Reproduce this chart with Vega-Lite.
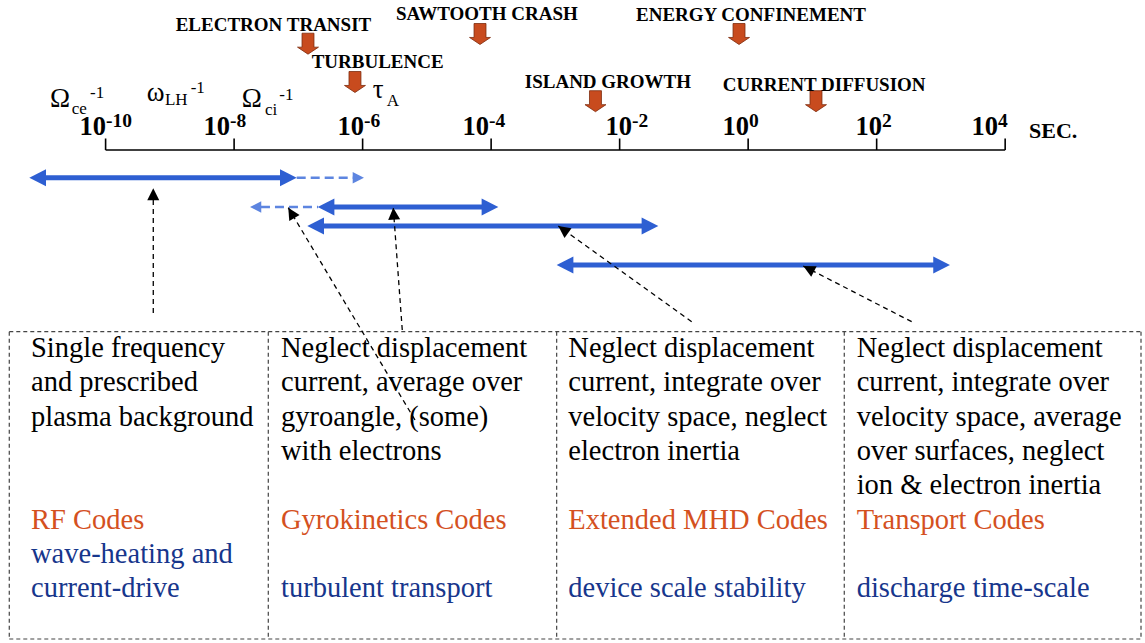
{
  "$schema": "https://vega.github.io/schema/vega-lite/v6.json",
  "width": 1145,
  "height": 643,
  "padding": 0,
  "autosize": {"type": "fit", "contains": "padding"},
  "background": "white",
  "config": {"view": {"stroke": null}},
  "datasets": {
    "boxlines": [
      {"x": -11.499, "y": 331.7, "x2": 6.114, "y2": 331.7},
      {"x": -11.499, "y": 639, "x2": 6.114, "y2": 639},
      {"x": -11.499, "y": 331.7, "x2": -11.499, "y2": 639},
      {"x": -7.468, "y": 331.7, "x2": -7.468, "y2": 639},
      {"x": -2.98, "y": 331.7, "x2": -2.98, "y2": 639},
      {"x": 1.496, "y": 331.7, "x2": 1.496, "y2": 639},
      {"x": 6.114, "y": 331.7, "x2": 6.114, "y2": 639}
    ],
    "axis": [
      {"x": -10, "y": 150, "x2": 4, "y2": 150},
      {"x": -10, "y": 138.5, "x2": -10, "y2": 150},
      {"x": -8, "y": 138.5, "x2": -8, "y2": 150},
      {"x": -6, "y": 138.5, "x2": -6, "y2": 150},
      {"x": -4, "y": 138.5, "x2": -4, "y2": 150},
      {"x": -2, "y": 138.5, "x2": -2, "y2": 150},
      {"x": 0, "y": 138.5, "x2": 0, "y2": 150},
      {"x": 2, "y": 138.5, "x2": 2, "y2": 150},
      {"x": 4, "y": 138.5, "x2": 4, "y2": 150}
    ],
    "ticklabels": [
      {"x": -9.994, "y": 135, "text": "10", "part": "base"},
      {"x": -9.994, "y": 127, "text": "-10", "part": "exp"},
      {"x": -8.064, "y": 135, "text": "10", "part": "base"},
      {"x": -8.064, "y": 127, "text": "-8", "part": "exp"},
      {"x": -5.979, "y": 135, "text": "10", "part": "base"},
      {"x": -5.979, "y": 127, "text": "-6", "part": "exp"},
      {"x": -4.033, "y": 135, "text": "10", "part": "base"},
      {"x": -4.033, "y": 127, "text": "-4", "part": "exp"},
      {"x": -1.808, "y": 135, "text": "10", "part": "base"},
      {"x": -1.808, "y": 127, "text": "-2", "part": "exp"},
      {"x": 0.013, "y": 135, "text": "10", "part": "base"},
      {"x": 0.013, "y": 127, "text": "0", "part": "exp"},
      {"x": 2.083, "y": 135, "text": "10", "part": "base"},
      {"x": 2.083, "y": 127, "text": "2", "part": "exp"},
      {"x": 3.888, "y": 135, "text": "10", "part": "base"},
      {"x": 3.888, "y": 127, "text": "4", "part": "exp"},
      {"x": 4.371, "y": 138, "text": "SEC.", "part": "unit"}
    ],
    "blueLines": [
      {"x": -10.959, "x2": -7.239, "y": 177.7, "style": "solid"},
      {"x": -6.492, "x2": -4.095, "y": 207, "style": "solid"},
      {"x": -6.632, "x2": -1.605, "y": 226, "style": "solid"},
      {"x": -2.757, "x2": 2.923, "y": 265, "style": "solid"},
      {"x": -7.026, "x2": -6.134, "y": 177.7, "style": "dashed"},
      {"x": -7.582, "x2": -6.694, "y": 207, "style": "dashed"}
    ],
    "blueHeads": [
      {"x": -11.187, "y": 177.7, "dir": "L", "style": "solid"},
      {"x": -7.026, "y": 177.7, "dir": "R", "style": "solid"},
      {"x": -6.699, "y": 207, "dir": "L", "style": "solid"},
      {"x": -3.888, "y": 207, "dir": "R", "style": "solid"},
      {"x": -6.861, "y": 226, "dir": "L", "style": "solid"},
      {"x": -1.398, "y": 226, "dir": "R", "style": "solid"},
      {"x": -2.98, "y": 265, "dir": "L", "style": "solid"},
      {"x": 3.141, "y": 265, "dir": "R", "style": "solid"},
      {"x": -5.979, "y": 177.7, "dir": "R", "style": "dashed"},
      {"x": -7.753, "y": 207, "dir": "L", "style": "dashed"}
    ],
    "pointers": [
      {"x": -9.258, "y": 313, "x2": -9.258, "y2": 188.3},
      {"x": -5.185, "y": 420, "x2": -7.157, "y2": 207.7},
      {"x": -5.383, "y": 330, "x2": -5.523, "y2": 207.7},
      {"x": -0.879, "y": 321.7, "x2": -2.955, "y2": 226},
      {"x": 2.545, "y": 321.7, "x2": 0.858, "y2": 266}
    ],
    "pointerHeads": [
      {"x": -9.258, "y": 188.3, "direction": 0},
      {"x": -7.157, "y": 207.7, "direction": 329.2},
      {"x": -5.523, "y": 207.7, "direction": 355.8},
      {"x": -2.955, "y": 226, "direction": 305.7},
      {"x": 0.858, "y": 266, "direction": 297.2}
    ],
    "events": [
      {"x": -6.85, "y": 43.7},
      {"x": -6.119, "y": 82},
      {"x": -4.173, "y": 34},
      {"x": -0.142, "y": 34},
      {"x": -2.376, "y": 101.2},
      {"x": 1.056, "y": 101.2}
    ],
    "eventLabels": [
      {"x": -8.909, "y": 30.5, "text": "ELECTRON TRANSIT"},
      {"x": -5.481, "y": 20, "text": "SAWTOOTH CRASH"},
      {"x": -6.793, "y": 68.3, "text": "TURBULENCE"},
      {"x": -1.745, "y": 20.7, "text": "ENERGY CONFINEMENT"},
      {"x": -3.476, "y": 88.3, "text": "ISLAND GROWTH"},
      {"x": -0.396, "y": 90.7, "text": "CURRENT DIFFUSION"}
    ],
    "symbols": [
      {"x": -10.865, "y": 107, "text": "Ω", "part": "big"},
      {"x": -9.36, "y": 101, "text": "ω", "part": "big"},
      {"x": -7.882, "y": 107, "text": "Ω", "part": "big"},
      {"x": -5.843, "y": 97.5, "text": "τ", "part": "big"},
      {"x": -10.528, "y": 114, "text": "ce", "part": "small"},
      {"x": -10.243, "y": 98.3, "text": "-1", "part": "small"},
      {"x": -9.076, "y": 105, "text": "LH", "part": "small"},
      {"x": -8.676, "y": 92.5, "text": "-1", "part": "small"},
      {"x": -7.519, "y": 114.5, "text": "ci", "part": "small"},
      {"x": -7.297, "y": 100, "text": "-1", "part": "small"},
      {"x": -5.625, "y": 106, "text": "A", "part": "small"}
    ],
    "boxText": [
      {"x": -11.161, "y": 357, "text": "Single frequency", "role": "desc"},
      {"x": -11.161, "y": 391.3, "text": "and prescribed", "role": "desc"},
      {"x": -11.161, "y": 425.6, "text": "plasma background", "role": "desc"},
      {"x": -11.161, "y": 528.5, "text": "RF Codes", "role": "code"},
      {"x": -11.161, "y": 562.8, "text": "wave-heating and", "role": "use"},
      {"x": -11.161, "y": 597.1, "text": "current-drive", "role": "use"},
      {"x": -7.27, "y": 357, "text": "Neglect displacement", "role": "desc"},
      {"x": -7.27, "y": 391.3, "text": "current, average over", "role": "desc"},
      {"x": -7.27, "y": 425.6, "text": "gyroangle,  (some)", "role": "desc"},
      {"x": -7.27, "y": 459.9, "text": "with electrons", "role": "desc"},
      {"x": -7.27, "y": 528.5, "text": "Gyrokinetics Codes", "role": "code"},
      {"x": -7.27, "y": 597.1, "text": "turbulent transport", "role": "use"},
      {"x": -2.799, "y": 357, "text": "Neglect displacement", "role": "desc"},
      {"x": -2.799, "y": 391.3, "text": "current, integrate over", "role": "desc"},
      {"x": -2.799, "y": 425.6, "text": "velocity space, neglect", "role": "desc"},
      {"x": -2.799, "y": 459.9, "text": "electron inertia", "role": "desc"},
      {"x": -2.799, "y": 528.5, "text": "Extended MHD Codes", "role": "code"},
      {"x": -2.799, "y": 597.1, "text": "device scale stability", "role": "use"},
      {"x": 1.689, "y": 357, "text": "Neglect displacement", "role": "desc"},
      {"x": 1.689, "y": 391.3, "text": "current, integrate over", "role": "desc"},
      {"x": 1.689, "y": 425.6, "text": "velocity space, average", "role": "desc"},
      {"x": 1.689, "y": 459.9, "text": "over surfaces, neglect", "role": "desc"},
      {"x": 1.689, "y": 494.2, "text": "ion & electron inertia", "role": "desc"},
      {"x": 1.689, "y": 528.5, "text": "Transport Codes", "role": "code"},
      {"x": 1.689, "y": 597.1, "text": "discharge time-scale", "role": "use"}
    ]
  },
  "encoding": {
    "x": {"field": "x", "type": "quantitative", "scale": {"domain": [-11.6434, 6.1762], "nice": false, "zero": false}, "axis": null},
    "y": {"field": "y", "type": "quantitative", "scale": {"domain": [0, 643], "reverse": true, "nice": false, "zero": false}, "axis": null}
  },
  "layer": [
    {
      "data": {"name": "boxlines"},
      "mark": {"type": "rule", "color": "#444444", "strokeWidth": 1.2, "strokeDash": [4, 3]},
      "encoding": {"x2": {"field": "x2"}, "y2": {"field": "y2"}}
    },
    {
      "data": {"name": "axis"},
      "mark": {"type": "rule", "color": "#000000", "strokeWidth": 1.6},
      "encoding": {"x2": {"field": "x2"}, "y2": {"field": "y2"}}
    },
    {
      "data": {"name": "blueLines"},
      "transform": [{"filter": "datum.style === 'solid'"}],
      "mark": {"type": "rule", "color": "#2e5fd2", "strokeWidth": 5},
      "encoding": {"x2": {"field": "x2"}}
    },
    {
      "data": {"name": "blueLines"},
      "transform": [{"filter": "datum.style === 'dashed'"}],
      "mark": {"type": "rule", "color": "#5d85e0", "strokeWidth": 2.5, "strokeDash": [9, 5]},
      "encoding": {"x2": {"field": "x2"}}
    },
    {
      "data": {"name": "blueHeads"},
      "transform": [{"filter": "datum.style === 'solid'"}],
      "mark": {"type": "point", "filled": true, "opacity": 1, "color": "#2e5fd2", "size": 1115},
      "encoding": {
        "shape": {"field": "dir", "type": "nominal", "scale": {"domain": ["L", "R"], "range": ["M0,0 L1,-0.51 L1,0.51 Z", "M0,0 L-1,-0.51 L-1,0.51 Z"]}, "legend": null}
      }
    },
    {
      "data": {"name": "blueHeads"},
      "transform": [{"filter": "datum.style === 'dashed'"}],
      "mark": {"type": "point", "filled": true, "opacity": 1, "color": "#5d85e0", "size": 511},
      "encoding": {
        "shape": {"field": "dir", "type": "nominal", "scale": {"domain": ["L", "R"], "range": ["M0,0 L1,-0.51 L1,0.51 Z", "M0,0 L-1,-0.51 L-1,0.51 Z"]}, "legend": null}
      }
    },
    {
      "data": {"name": "pointers"},
      "mark": {"type": "rule", "color": "#000000", "strokeWidth": 1.3, "strokeDash": [5, 4]},
      "encoding": {"x2": {"field": "x2"}, "y2": {"field": "y2"}}
    },
    {
      "data": {"name": "pointerHeads"},
      "mark": {"type": "point", "filled": true, "opacity": 1, "color": "#000000", "size": 576, "shape": "M0,0 L0.5,1 L-0.5,1 Z"},
      "encoding": {"angle": {"field": "direction", "type": "quantitative", "scale": null}}
    },
    {
      "data": {"name": "events"},
      "mark": {"type": "point", "filled": true, "opacity": 1, "fill": "#c84b1e", "stroke": "#7d2c0e", "strokeWidth": 0.8, "size": 440, "shape": "M-0.57,-1 L0.57,-1 L0.57,0.33 L1,0.33 L0,1 L-1,0.33 L-0.57,0.33 Z"}
    },
    {
      "data": {"name": "eventLabels"},
      "mark": {"type": "text", "font": "Liberation Serif", "fontWeight": "bold", "fontSize": 19, "align": "left", "baseline": "alphabetic", "color": "#000000"},
      "encoding": {"text": {"field": "text"}}
    },
    {
      "data": {"name": "symbols"},
      "transform": [{"filter": "datum.part === 'big'"}],
      "mark": {"type": "text", "font": "Liberation Serif", "fontSize": 27, "align": "left", "baseline": "alphabetic", "color": "#000000"},
      "encoding": {"text": {"field": "text"}}
    },
    {
      "data": {"name": "symbols"},
      "transform": [{"filter": "datum.part === 'small'"}],
      "mark": {"type": "text", "font": "Liberation Serif", "fontSize": 17, "align": "left", "baseline": "alphabetic", "color": "#000000"},
      "encoding": {"text": {"field": "text"}}
    },
    {
      "data": {"name": "ticklabels"},
      "transform": [{"filter": "datum.part === 'base'"}],
      "mark": {"type": "text", "font": "Liberation Serif", "fontWeight": "bold", "fontSize": 26.5, "align": "right", "baseline": "alphabetic", "color": "#000000"},
      "encoding": {"text": {"field": "text"}}
    },
    {
      "data": {"name": "ticklabels"},
      "transform": [{"filter": "datum.part === 'exp'"}],
      "mark": {"type": "text", "font": "Liberation Serif", "fontWeight": "bold", "fontSize": 19.5, "align": "left", "baseline": "alphabetic", "color": "#000000"},
      "encoding": {"text": {"field": "text"}}
    },
    {
      "data": {"name": "ticklabels"},
      "transform": [{"filter": "datum.part === 'unit'"}],
      "mark": {"type": "text", "font": "Liberation Serif", "fontWeight": "bold", "fontSize": 22, "align": "left", "baseline": "alphabetic", "color": "#000000"},
      "encoding": {"text": {"field": "text"}}
    },
    {
      "data": {"name": "boxText"},
      "mark": {"type": "text", "font": "Liberation Serif", "fontSize": 28.5, "align": "left", "baseline": "alphabetic"},
      "encoding": {
        "text": {"field": "text"},
        "color": {"field": "role", "type": "nominal", "scale": {"domain": ["desc", "code", "use"], "range": ["#000000", "#d4511f", "#17368c"]}, "legend": null}
      }
    }
  ]
}
